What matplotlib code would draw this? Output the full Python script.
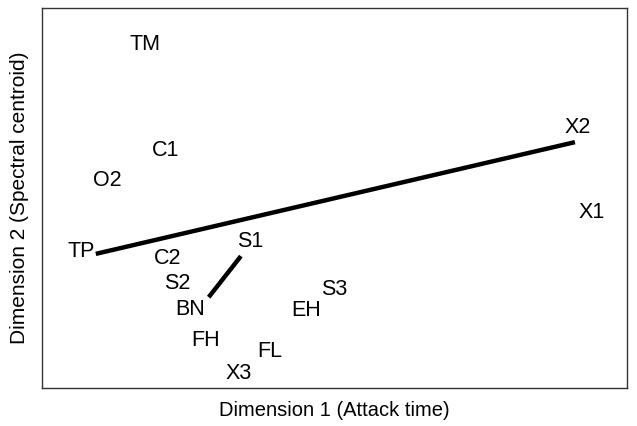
import matplotlib.pyplot as plt

plt.rcParams['font.family'] = ['Liberation Sans', 'DejaVu Sans']

# Timbre space positions (arbitrary units, 0-100 on both dimensions)
labels = ['TM', 'C1', 'O2', 'C2', 'S2', 'FH', 'FL', 'X3', 'EH', 'S3', 'X1']
dim1 = [17.6, 21.2, 11.1, 21.4, 23.1, 28.0, 39.0, 33.7, 45.1, 49.9, 94.0]
dim2 = [90.5, 62.6, 54.5, 34.2, 27.4, 12.6, 9.5, 3.9, 20.3, 25.8, 46.1]

# Pairs joined by a line: (name, dim1, dim2)
pair_a = [('TP', 9.2, 35.3), ('X2', 91.1, 64.7)]
pair_b = [('BN', 28.5, 23.9), ('S1', 34.0, 34.7)]

fig = plt.figure(figsize=(6.37, 4.26), dpi=100)
ax = fig.add_axes([0.0659, 0.0892, 0.9184, 0.892])
ax.set_xlim(0, 100)
ax.set_ylim(0, 100)

fs = 15.5
for name, x, y in zip(labels, dim1, dim2):
    ax.text(x, y, name, ha='center', va='center', fontsize=fs)

for pair in (pair_a, pair_b):
    ax.plot([p[1] for p in pair], [p[2] for p in pair], color='black',
            lw=3.2, solid_capstyle='butt')

# endpoint labels, offset from the line ends
ax.annotate(pair_a[0][0], (pair_a[0][1], pair_a[0][2]), xytext=(-1, 2),
            textcoords='offset points', ha='right', va='center', fontsize=fs)
ax.annotate(pair_a[1][0], (pair_a[1][1], pair_a[1][2]), xytext=(2, 3),
            textcoords='offset points', ha='center', va='bottom', fontsize=fs)
ax.annotate(pair_b[0][0], (pair_b[0][1], pair_b[0][2]), xytext=(-3, -1),
            textcoords='offset points', ha='right', va='top', fontsize=fs)
ax.annotate(pair_b[1][0], (pair_b[1][1], pair_b[1][2]), xytext=(-3, 3),
            textcoords='offset points', ha='left', va='bottom', fontsize=fs)

ax.set_xticks([])
ax.set_yticks([])
for s in ax.spines.values():
    s.set_color('#333333')
    s.set_linewidth(1.0)

ax.set_xlabel('Dimension 1 (Attack time)', fontsize=14.5, labelpad=9)
ax.set_ylabel('Dimension 2 (Spectral centroid)', fontsize=15, labelpad=9)

fig.savefig('out.png', dpi=100)
